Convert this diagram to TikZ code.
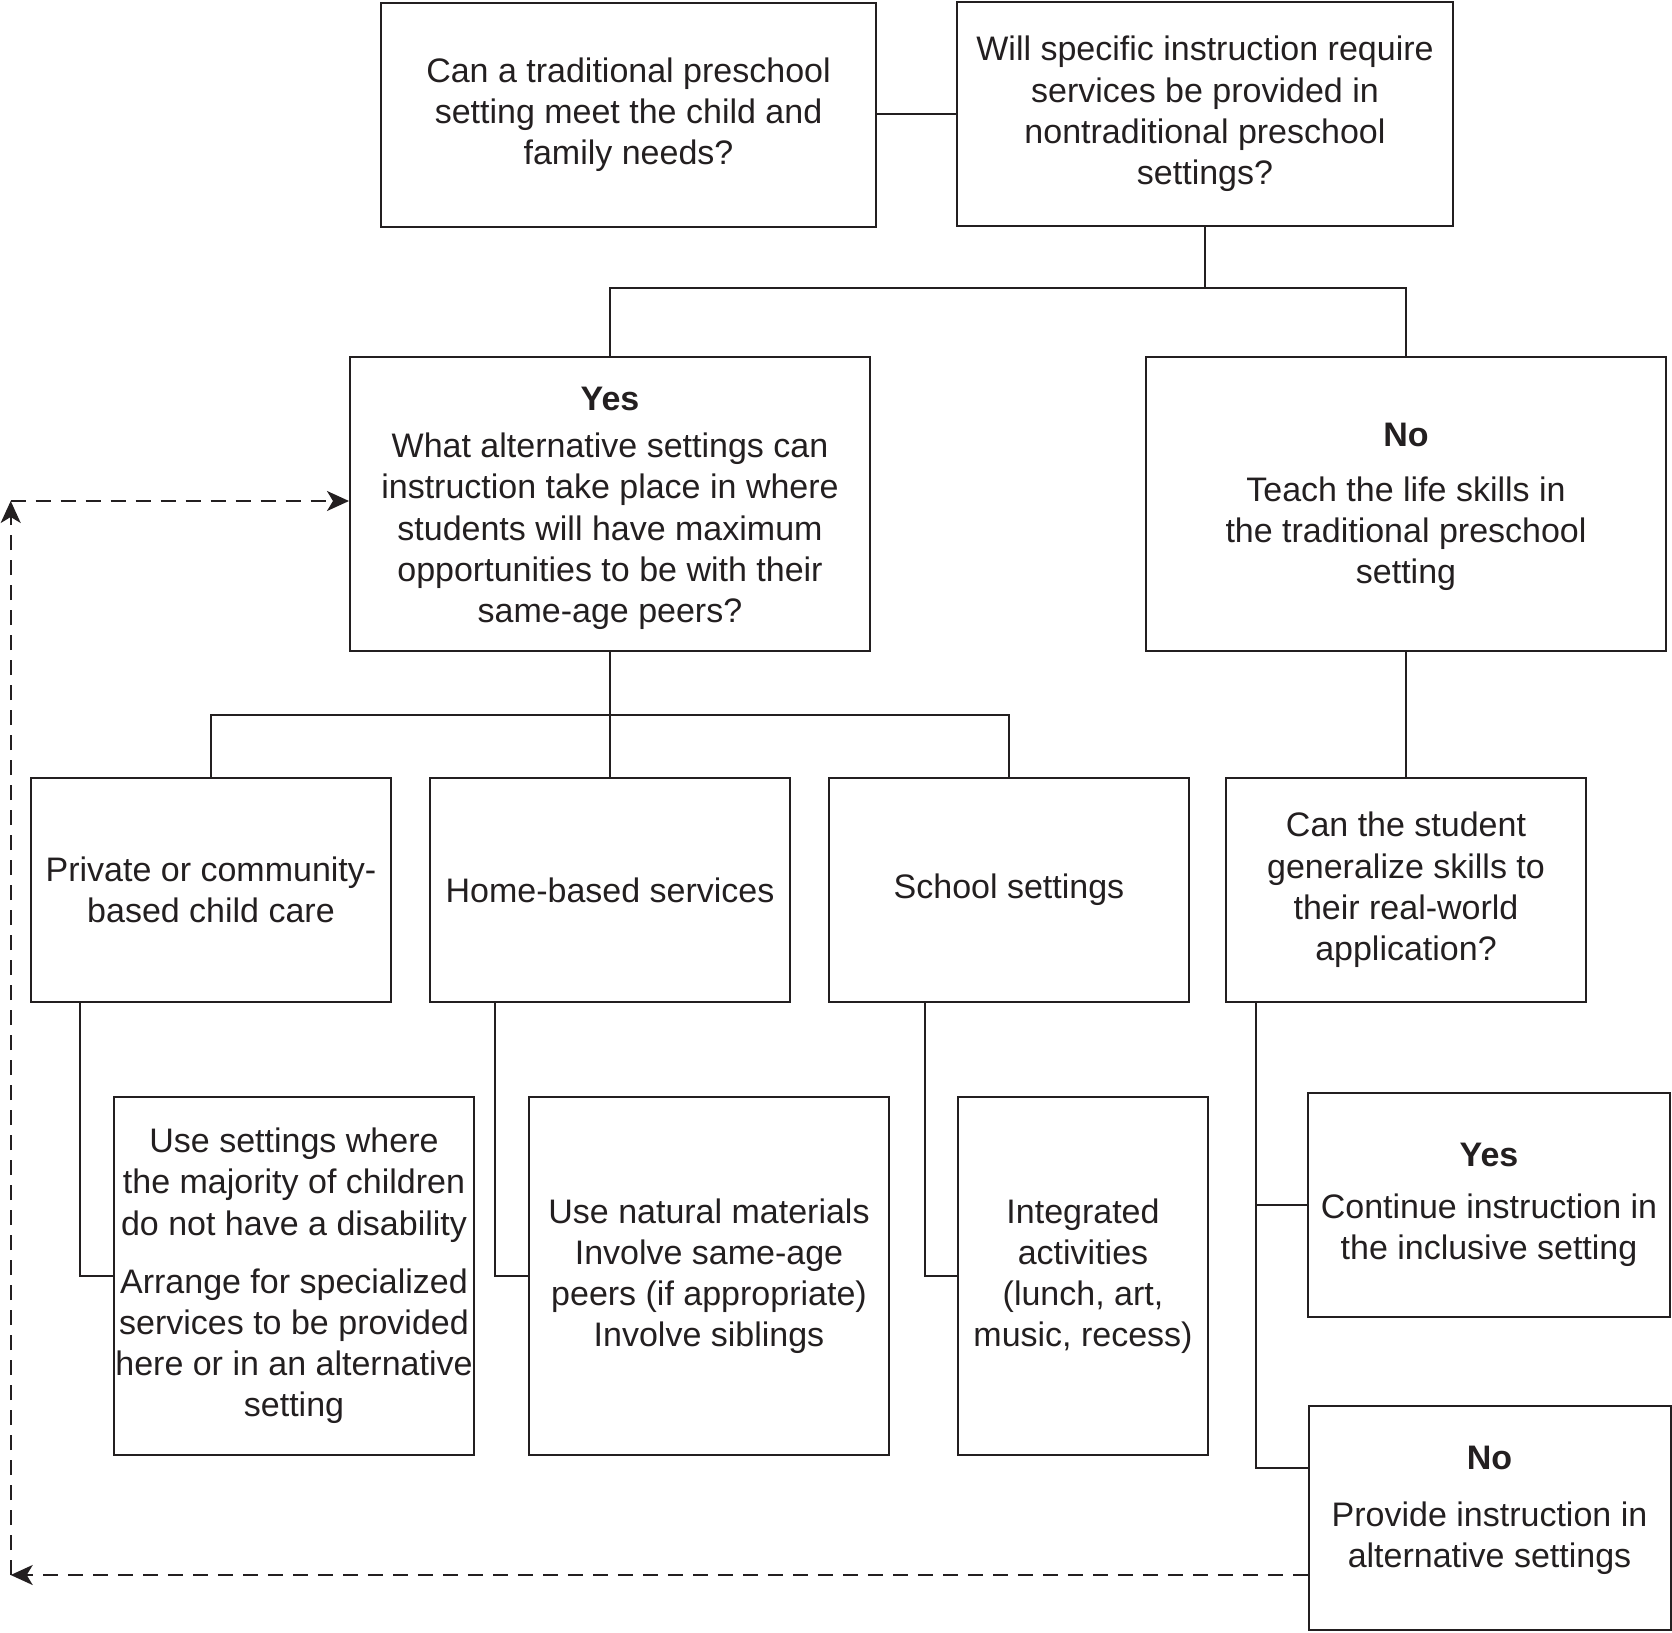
\documentclass[tikz,border=0pt]{standalone}
\usepackage{fontspec}
\setmainfont{Liberation Sans}
\usetikzlibrary{arrows.meta}
\definecolor{ink}{HTML}{231F20}
\begin{document}
\begin{tikzpicture}[x=0.5pt,y=-0.5pt,
  every node/.style={font=\fontsize{17pt}{20.6pt}\selectfont, text=ink},
  box/.style={draw=ink, line width=1pt, align=center, inner sep=0pt},
  conn/.style={draw=ink, line width=1pt},
  dashln/.style={draw=ink, line width=1pt, dash pattern=on 7.5pt off 5pt, -{Stealth[length=11pt,width=10pt,inset=3pt]}}]
\useasboundingbox (0,0) rectangle (1672,1633);

\node[box, minimum width=247.5pt, minimum height=112pt] (A) at (628.5,115)
  {Can a traditional preschool\\setting meet the child and\\family needs?};
\node[box, minimum width=248pt, minimum height=112pt] (B) at (1205,114)
  {Will specific instruction require\\services be provided in\\nontraditional preschool\\settings?};

\node[box, minimum width=260pt, minimum height=147pt] (yes) at (610,504)
  {\raisebox{-2pt}[\height][\depth]{\begin{tabular}{@{}c@{}}\textbf{Yes}\\[3.2pt]What alternative settings can\\instruction take place in where\\students will have maximum\\opportunities to be with their\\same-age peers?\end{tabular}}};
\node[box, minimum width=260pt, minimum height=147pt] (no) at (1406,504)
  {\raisebox{-1.5pt}[\height][\depth]{\begin{tabular}{@{}c@{}}\textbf{No}\\[6.5pt]Teach the life skills in\\the traditional preschool\\setting\end{tabular}}};

\node[box, minimum width=180pt, minimum height=112pt] (r1) at (211,890)
  {Private or community-\\based child care};
\node[box, minimum width=180pt, minimum height=112pt] (r2) at (610,890)
  {Home-based services};
\node[box, minimum width=180pt, minimum height=112pt] (r3) at (1009,890)
  {School settings};
\node[box, minimum width=180pt, minimum height=112pt] (r4) at (1406,890)
  {Can the student\\generalize skills to\\their real-world\\application?};

\node[box, minimum width=180pt, minimum height=179pt] (s1) at (294,1276)
  {Use settings where\\the majority of children\\do not have a disability\\[8.5pt]Arrange for specialized\\services to be provided\\here or in an alternative\\setting};
\node[box, minimum width=180pt, minimum height=179pt] (s2) at (709,1276)
  {Use natural materials\\Involve same-age\\peers (if appropriate)\\Involve siblings};
\node[box, minimum width=125pt, minimum height=179pt] (s3) at (1083,1276)
  {Integrated\\activities\\(lunch, art,\\music, recess)};

\node[box, minimum width=181pt, minimum height=112pt] (t1) at (1489,1205)
  {\textbf{Yes}\\[5.5pt]Continue instruction in\\the inclusive setting};
\node[box, minimum width=181pt, minimum height=112pt] (t2) at (1489.5,1518)
  {\raisebox{4pt}[\height][\depth]{\begin{tabular}{@{}c@{}}\textbf{No}\\[8pt]Provide instruction in\\alternative settings\end{tabular}}};

% connectors
\draw[conn] (A.east |- B.west) -- (B.west);
\coordinate (j1) at (1205,288);
\draw[conn] (B.south) -- (j1);
\draw[conn] (yes.north) |- (j1) -| (no.north);
\coordinate (j2) at (610,714.5);
\draw[conn] (yes.south) -- (r2.north);
\draw[conn] (r1.north) |- (j2) -| (r3.north);
\draw[conn] (no.south) -- (r4.north);

\draw[conn] ([xshift=-65.5pt]r1.south) |- (s1.west);
\draw[conn] ([xshift=-57.5pt]r2.south) |- (s2.west);
\draw[conn] ([xshift=-42.25pt]r3.south) |- (s3.west);
\coordinate (k4) at (1256,1468);
\draw[conn] ([xshift=-75pt]r4.south) -- (k4) -- (k4 -| t2.west);
\draw[conn] (k4 |- t1.west) -- (t1.west);

% dashed feedback
\coordinate (d1) at (10.7,1575);
\coordinate (d2) at (10.7,501);
\draw[dashln] (t2.west |- d1) -- (d1);
\draw[dashln] (d1) -- (d2);
\draw[dashln] (d2) -- (d2 -| yes.west);
\end{tikzpicture}
\end{document}
